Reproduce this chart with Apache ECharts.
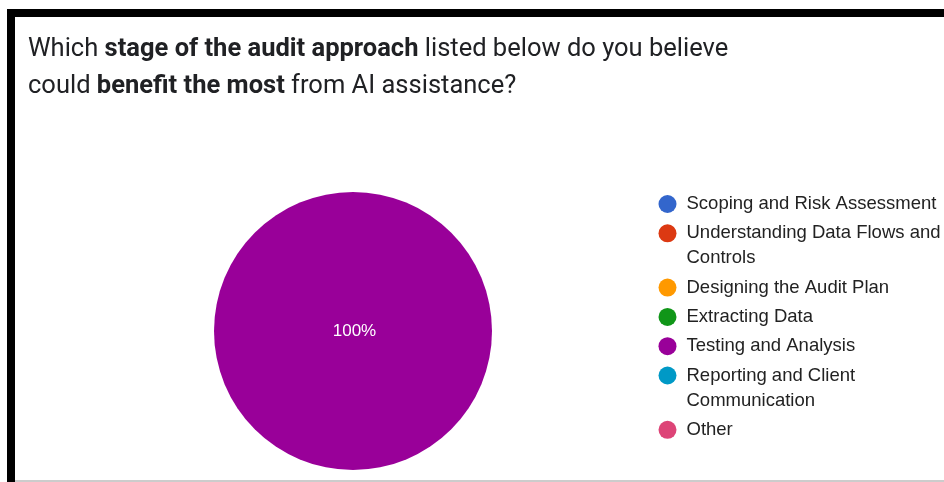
<!DOCTYPE html>
<html>
<head>
<meta charset="utf-8">
<script src="https://cdn.jsdelivr.net/npm/echarts@6/dist/echarts.min.js"></script>
<style>
  html, body { margin: 0; padding: 0; background: #fff; }
  #chart { width: 944px; height: 482px; }
</style>
</head>
<body>
<div id="chart"></div>
<script>
// Survey answer options and the share of respondents choosing each one (%)
const stages = [
  'Scoping and Risk Assessment',
  'Understanding Data Flows and Controls',
  'Designing the Audit Plan',
  'Extracting Data',
  'Testing and Analysis',
  'Reporting and Client Communication',
  'Other'
];
const shares = [0, 0, 0, 0, 100, 0, 0];
const stageColors = ['#3366cc', '#dc3912', '#ff9900', '#109618', '#990099', '#0099c6', '#dd4477'];

// Question text, split into regular / bold runs per line
const questionLines = [
  [['r', 'Which '], ['b', 'stage of the audit approach'], ['r', ' listed below do you believe']],
  [['r', 'could '], ['b', 'benefit the most'], ['r', ' from AI assistance?']]
];

const chart = echarts.init(document.getElementById('chart'), null, { renderer: 'canvas' });

const titleText = questionLines
  .map(line => line.map(([k, t]) => '{' + k + '|' + t + '}').join(''))
  .join('\n');

// Legend: one block per option so a wrapped label keeps its marker beside the first line
const LEGEND_FAMILY = '"Liberation Sans", Arial, sans-serif';
const LEGEND_SIZE = 18.5;
const LEGEND_WRAP = 258;
const LINE_H = 25;
const ROW_GAP = 4.3;
const measureCtx = document.createElement('canvas').getContext('2d');
measureCtx.font = LEGEND_SIZE + 'px ' + LEGEND_FAMILY;

function wrapWords(text) {
  const words = text.split(' ');
  const lines = [];
  let cur = '';
  words.forEach((w) => {
    const next = cur ? cur + ' ' + w : w;
    if (cur && measureCtx.measureText(next).width > LEGEND_WRAP) {
      lines.push(cur);
      cur = w;
    } else {
      cur = next;
    }
  });
  lines.push(cur);
  return lines;
}

let markerY = 204;
const legends = stages.map((name) => {
  const lines = wrapWords(name);
  const extra = (lines.length - 1) * LINE_H;
  // a blank leading line balances the block so line one sits level with the marker
  const label = (extra ? '\n'.repeat(lines.length - 1) : '') + lines.join('\n');
  const leg = {
    orient: 'vertical',
    left: 658.5,
    top: markerY - LINE_H / 2 - extra,
    padding: 0,
    itemWidth: 28,
    itemHeight: 18,
    icon: 'circle',
    data: [name],
    selectedMode: false,
    formatter: () => label,
    textStyle: {
      fontFamily: LEGEND_FAMILY,
      fontSize: LEGEND_SIZE,
      color: '#222222',
      lineHeight: LINE_H
    }
  };
  markerY += lines.length * LINE_H + ROW_GAP;
  return leg;
});

const option = {
  animation: false,
  backgroundColor: '#ffffff',
  color: stageColors,
  title: {
    left: 28,
    top: 31.5,
    padding: 0,
    text: titleText,
    textStyle: {
      rich: {
        r: { fontFamily: 'Roboto', fontSize: 25.5, fontWeight: 'normal', color: '#202124', lineHeight: 36.5 },
        b: { fontFamily: 'Roboto', fontSize: 25.5, fontWeight: 'bold', color: '#202124', lineHeight: 36.5 }
      }
    }
  },
  legend: legends,
  graphic: [
    // page frame: top and left black bars, faint bottom rule
    { type: 'rect', shape: { x: 7, y: 9, width: 937, height: 8 }, style: { fill: '#000' } },
    { type: 'rect', shape: { x: 7, y: 9, width: 8, height: 473 }, style: { fill: '#000' } },
    { type: 'rect', shape: { x: 15, y: 480, width: 929, height: 2 }, style: { fill: '#cccccc' } }
  ],
  series: [{
    type: 'pie',
    center: [353, 331],
    radius: 139,
    startAngle: 90,
    clockwise: true,
    avoidLabelOverlap: false,
    itemStyle: { borderWidth: 0 },
    emphasis: { disabled: true },
    labelLine: { show: false },
    label: {
      show: true,
      position: 'center',
      fontFamily: LEGEND_FAMILY,
      fontSize: 17,
      color: '#ffffff',
      padding: [5, 0, 0, 3],
      formatter: (p) => (p.value > 0 ? Math.round(p.percent) + '%' : '')
    },
    data: stages.map((name, i) => ({ name: name, value: shares[i] }))
  }]
};

chart.setOption(option);
</script>
</body>
</html>
